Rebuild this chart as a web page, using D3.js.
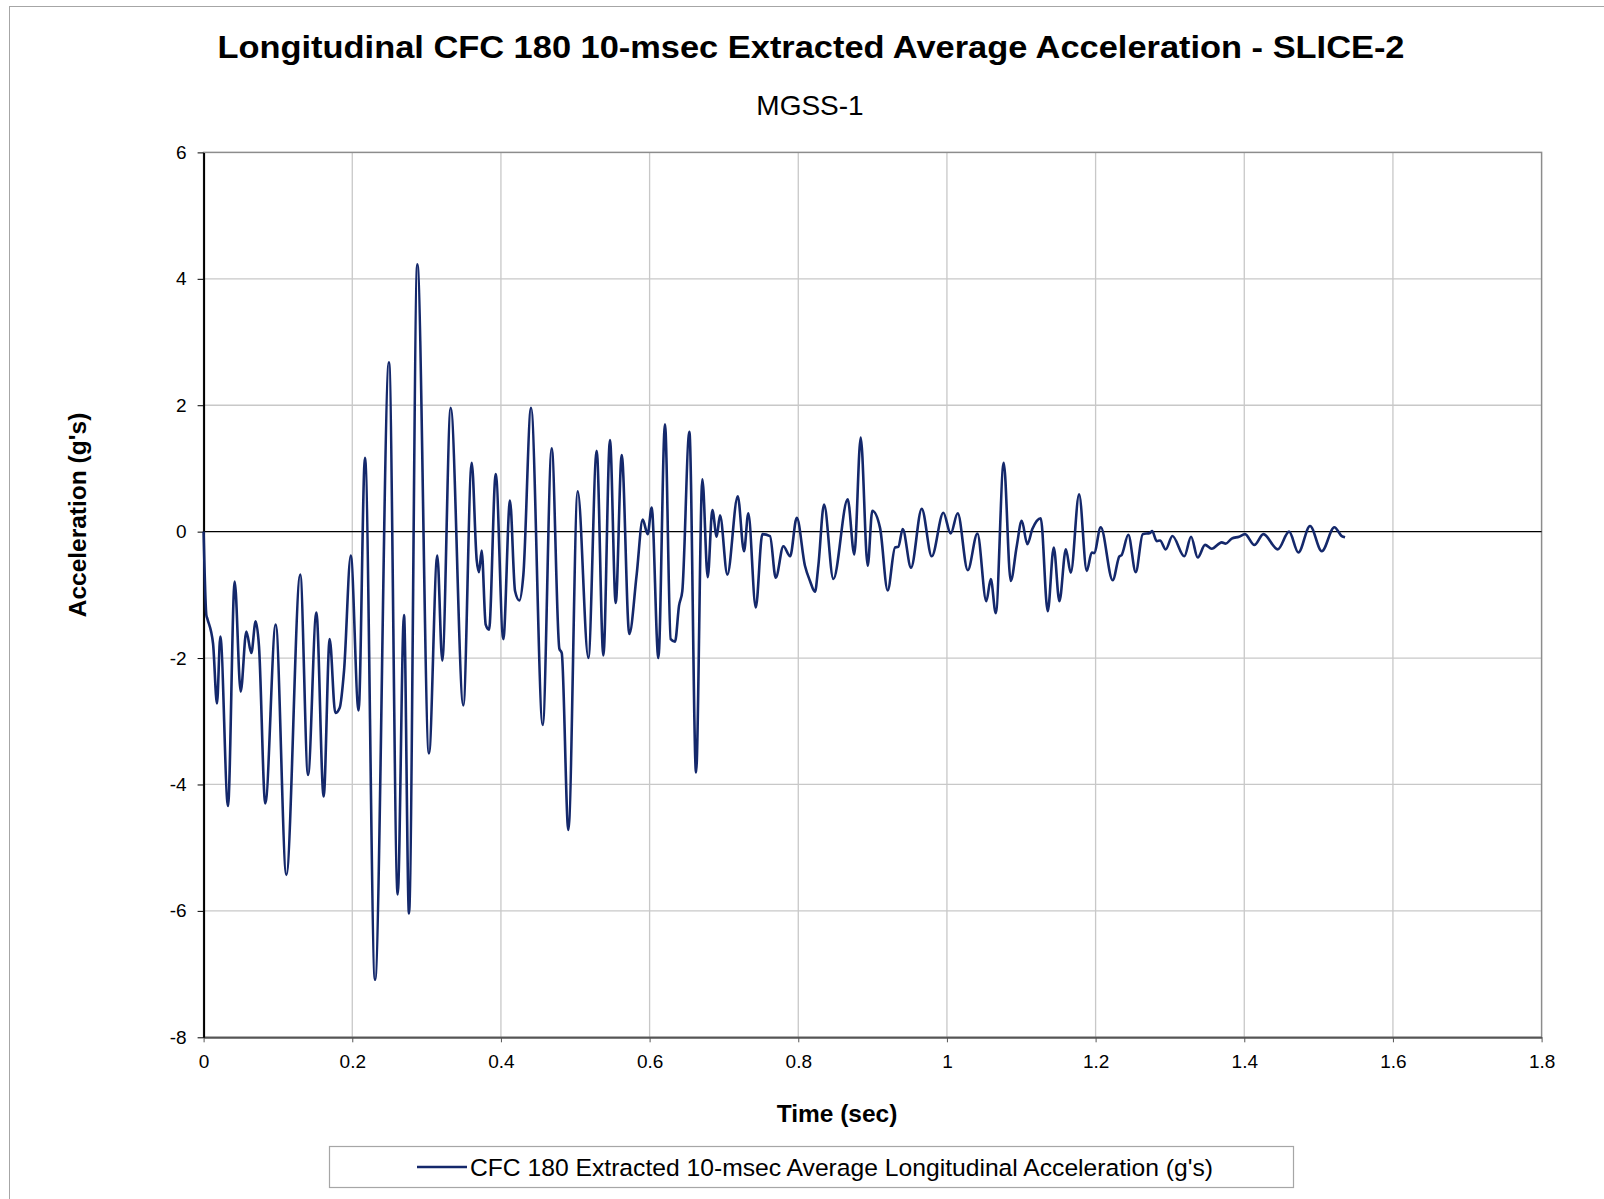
<!DOCTYPE html>
<html>
<head>
<meta charset="utf-8">
<script src="https://cdn.jsdelivr.net/npm/d3@7"></script>
<style>
  html, body { margin: 0; padding: 0; background: #fff; }
  svg { display: block; }
  text { font-family: "Liberation Sans", Arial, sans-serif; }
</style>
</head>
<body>
<script>
const chartTitle = "Longitudinal CFC 180 10-msec Extracted Average Acceleration - SLICE-2";
const chartSubtitle = "MGSS-1";
const xAxisTitle = "Time (sec)";
const yAxisTitle = "Acceleration (g's)";
const seriesName = "CFC 180 Extracted 10-msec Average Longitudinal Acceleration (g's)";

const xTicks = [0, 0.2, 0.4, 0.6, 0.8, 1, 1.2, 1.4, 1.6, 1.8];
const yTicks = [-8, -6, -4, -2, 0, 2, 4, 6];

const time = [
  0.000, 0.0037, 0.0051, 0.0127, 0.018, 0.0225, 0.0328, 0.0418, 0.0499, 0.0575,
  0.0642, 0.070, 0.0745, 0.083, 0.097, 0.1113, 0.130, 0.1405, 0.1517, 0.1615,
  0.1696, 0.1772, 0.183, 0.189, 0.198, 0.2085, 0.2171, 0.2306, 0.2494, 0.2611,
  0.2696, 0.2763, 0.2875, 0.3032, 0.3144, 0.3211, 0.3324, 0.3494, 0.3607, 0.3674,
  0.3705, 0.3741, 0.3795, 0.384, 0.393, 0.4032, 0.4122, 0.419, 0.4248, 0.4302,
  0.4405, 0.4562, 0.4683, 0.4786, 0.4818, 0.4907, 0.5033, 0.5176, 0.5288, 0.5378,
  0.5467, 0.5544, 0.5625, 0.5727, 0.5826, 0.5907, 0.5974, 0.6028, 0.6118, 0.6207,
  0.6284, 0.6342, 0.6396, 0.644, 0.6535, 0.6625, 0.671, 0.6782, 0.6844, 0.6903,
  0.6947, 0.7046, 0.7186, 0.727, 0.7328, 0.7428, 0.7517, 0.762, 0.7697, 0.78,
  0.789, 0.798, 0.809, 0.8158, 0.8225, 0.827, 0.8347, 0.8472, 0.8665, 0.8754,
  0.884, 0.8934, 0.8996, 0.91, 0.9203, 0.9302, 0.9346, 0.9405, 0.9517, 0.9661,
  0.9796, 0.9952, 1.005, 1.0145, 1.028, 1.041, 1.053, 1.059, 1.0657, 1.0764,
  1.0858, 1.0939, 1.1006, 1.1082, 1.1149, 1.1262, 1.1356, 1.1437, 1.1513, 1.16,
  1.1666, 1.1778, 1.1881, 1.1948, 1.198, 1.2069, 1.223, 1.232, 1.235, 1.244,
  1.254, 1.2634, 1.2733, 1.276, 1.2823, 1.2867, 1.2944, 1.3033, 1.3194, 1.3284,
  1.3374, 1.3473, 1.3562, 1.3697, 1.375, 1.3831, 1.393, 1.401, 1.4136, 1.4257,
  1.4451, 1.4603, 1.4728, 1.4885, 1.5043, 1.5212, 1.5311, 1.5356
];
const accel = [
  0.00, -1.32, -1.38, -1.77, -2.72, -1.66, -4.34, -0.79, -2.53, -1.58,
  -1.92, -1.42, -1.81, -4.30, -1.47, -5.43, -0.68, -3.85, -1.28, -4.19,
  -1.70, -2.87, -2.79, -2.19, -0.38, -2.83, 1.17, -7.09, 2.68, -5.74,
  -1.32, -6.04, 4.23, -3.51, -0.38, -2.04, 1.96, -2.75, 1.09, -0.45,
  -0.64, -0.30, -1.47, -1.55, 0.91, -1.70, 0.49, -0.94, -1.09, -0.68,
  1.96, -3.06, 1.32, -1.85, -1.92, -4.72, 0.64, -2.00, 1.28, -1.96,
  1.45, -1.13, 1.21, -1.62, -0.68, 0.19, -0.04, 0.38, -2.00, 1.70,
  -1.70, -1.74, -1.17, -0.94, 1.58, -3.81, 0.83, -0.72, 0.34, -0.08,
  0.26, -0.68, 0.56, -0.31, 0.29, -1.20, -0.04, -0.07, -0.73, -0.23,
  -0.39, 0.22, -0.54, -0.78, -0.95, -0.54, 0.43, -0.75, 0.51, -0.36,
  1.49, -0.54, 0.33, 0.06, -0.93, -0.25, -0.24, 0.04, -0.57, 0.36,
  -0.39, 0.30, -0.03, 0.29, -0.61, -0.03, -1.10, -0.75, -1.29, 1.09,
  -0.78, -0.23, 0.17, -0.20, 0.04, 0.21, -1.26, -0.25, -1.10, -0.28,
  -0.65, 0.59, -0.62, -0.33, -0.34, 0.07, -0.77, -0.39, -0.37, -0.05,
  -0.64, -0.04, -0.02, 0.01, -0.15, -0.14, -0.28, -0.07, -0.39, -0.08,
  -0.41, -0.21, -0.27, -0.17, -0.19, -0.11, -0.08, -0.04, -0.21, -0.04,
  -0.28, 0.00, -0.33, 0.09, -0.31, 0.07, -0.07, -0.09
];

const W = 1604, H = 1199;
const plot = { left: 203.6, right: 1541.6, top: 152.4, bottom: 1037.3 };
const FONT = "'Liberation Sans', Arial, sans-serif";

const svg = d3.select("body").append("svg").attr("width", W).attr("height", H);
svg.append("rect").attr("width", W).attr("height", H).attr("fill", "#fff");

// outer chart frame
svg.append("rect")
  .attr("x", 9.5).attr("y", 6.5).attr("width", W + 20).attr("height", H + 20)
  .attr("fill", "none").attr("stroke", "#a6a6a6").attr("stroke-width", 1);

const x = d3.scaleLinear().domain([0, 1.8]).range([plot.left, plot.right]);
const y = d3.scaleLinear().domain([-8, 6]).range([plot.bottom, plot.top]);

// gridlines
const grid = svg.append("g");
grid.selectAll("line.v").data(xTicks.slice(1, -1)).join("line")
  .attr("x1", d => x(d)).attr("x2", d => x(d))
  .attr("y1", plot.top).attr("y2", plot.bottom)
  .attr("stroke", "#c8c8c8").attr("stroke-width", 1.3);
grid.selectAll("line.h").data(yTicks.filter(d => d !== 0 && d !== -8 && d !== 6)).join("line")
  .attr("x1", plot.left).attr("x2", plot.right)
  .attr("y1", d => y(d)).attr("y2", d => y(d))
  .attr("stroke", "#c8c8c8").attr("stroke-width", 1.3);

// plot border
svg.append("rect")
  .attr("x", plot.left).attr("y", plot.top)
  .attr("width", plot.right - plot.left).attr("height", plot.bottom - plot.top)
  .attr("fill", "none").attr("stroke", "#8c8c8c").attr("stroke-width", 1.5);

// zero line
svg.append("line")
  .attr("x1", plot.left).attr("x2", plot.right)
  .attr("y1", y(0)).attr("y2", y(0))
  .attr("stroke", "#000").attr("stroke-width", 1.3);

// axes
const xAxis = d3.axisBottom(x).tickValues(xTicks).tickFormat(d3.format("~g"))
  .tickSizeInner(5).tickSizeOuter(0).tickPadding(12);
const gx = svg.append("g").attr("transform", `translate(0,${plot.bottom})`).call(xAxis);
gx.select(".domain").attr("stroke", "#555").attr("stroke-width", 2);
gx.selectAll(".tick line").attr("stroke", "#555");
gx.selectAll("text").attr("font-size", 19).attr("fill", "#000").style("font-family", FONT);

const yAxis = d3.axisLeft(y).tickValues(yTicks).tickFormat(d => String(d))
  .tickSizeInner(6).tickSizeOuter(0).tickPadding(11);
const gy = svg.append("g").attr("transform", `translate(${plot.left},0)`).call(yAxis);
gy.select(".domain").attr("stroke", "#000").attr("stroke-width", 2);
gy.selectAll(".tick line").attr("stroke", "#000");
gy.selectAll("text").attr("font-size", 19).attr("fill", "#000").style("font-family", FONT);

// data line
const pts = time.map((t, i) => [t, accel[i]]);
const line = d3.line().x(d => x(d[0])).y(d => y(d[1])).curve(d3.curveMonotoneX);
svg.append("path").datum(pts)
  .attr("d", line)
  .attr("fill", "none").attr("stroke", "#14286b").attr("stroke-width", 2.6)
  .attr("stroke-linejoin", "round");

// titles
svg.append("text").attr("x", 811).attr("y", 58).attr("text-anchor", "middle")
  .attr("font-size", 32).attr("font-weight", "bold")
  .attr("textLength", 1187).attr("lengthAdjust", "spacingAndGlyphs")
  .text(chartTitle);
svg.append("text").attr("x", 810).attr("y", 115).attr("text-anchor", "middle")
  .attr("font-size", 28).text(chartSubtitle);
svg.append("text").attr("x", 837).attr("y", 1122).attr("text-anchor", "middle")
  .attr("font-size", 24.5).attr("font-weight", "bold").text(xAxisTitle);
svg.append("text").attr("transform", "translate(86,515) rotate(-90)")
  .attr("text-anchor", "middle")
  .attr("font-size", 24.5).attr("font-weight", "bold").text(yAxisTitle);

// legend
const lg = svg.append("g");
lg.append("rect").attr("x", 329.5).attr("y", 1146.5).attr("width", 964).attr("height", 41)
  .attr("fill", "#fff").attr("stroke", "#a6a6a6").attr("stroke-width", 1.2);
lg.append("line").attr("x1", 417).attr("x2", 467).attr("y1", 1167).attr("y2", 1167)
  .attr("stroke", "#14286b").attr("stroke-width", 2.6);
lg.append("text").attr("x", 470).attr("y", 1175.5).attr("font-size", 24.5)
  .attr("textLength", 743).attr("lengthAdjust", "spacingAndGlyphs")
  .text(seriesName);
</script>
</body>
</html>
